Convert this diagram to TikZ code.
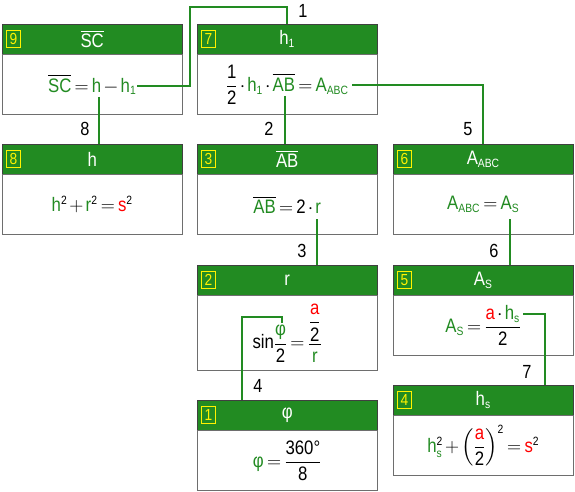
\RequirePackage{fix-cm}
\documentclass[tikz,border=0pt]{standalone}
\usepackage{amsmath}
\usepackage{fontspec}
\setmainfont{Liberation Sans}[FakeStretch=0.86]
\usetikzlibrary{positioning}
\DeclareMathSizes{19.5}{19.5}{12}{9}

\definecolor{hdgreen}{RGB}{34,139,34}
\definecolor{vargreen}{RGB}{34,139,34}
\definecolor{framegray}{RGB}{110,110,110}
\newcommand{\gv}[1]{\textcolor{vargreen}{\text{#1}}}
\newcommand{\rv}[1]{\textcolor{red}{\text{#1}}}
\newcommand{\tx}[1]{\text{#1}}
\medmuskip=2mu plus 1mu minus 1mu
\thickmuskip=3mu plus 2mu

\begin{document}
\begin{tikzpicture}[x=1pt, y=-1pt, every node/.style={inner sep=0pt},
  head/.style={draw=black!75, fill=hdgreen, minimum width=180pt, minimum height=30pt, text=white, font=\fontsize{19.5}{23}\selectfont},
  body/.style={draw=framegray, fill=white, minimum width=180pt, minimum height=60pt, font=\fontsize{19.5}{23}\selectfont},
  badge/.style={draw=yellow, text=yellow, minimum width=14pt, minimum height=17pt, font=\fontsize{16}{19}\selectfont, line width=0.8pt},
  conn/.style={draw=hdgreen, line width=1.6pt},
  num/.style={font=\fontsize{19}{22}\selectfont}]
  \useasboundingbox (0,0) rectangle (575,492);
  % row 1
  \node[head, anchor=north west] (t9) at (2,24) {$\overline{\tx{SC}}$};
  \node[body, below=0pt of t9] (f9) {$\overline{\gv{SC}} = \gv{h} - \gv{h}_{\gv{1}}$};
  \node[badge, right=4pt of t9.west] (n9) {9};
  \node[head, anchor=north west] (t7) at (197,24) {$\tx{h}_{\tx{1}}$};
  \node[body, below=0pt of t7] (f7) {$\dfrac{\tx{1}}{\tx{2}}\cdot\gv{h}_{\gv{1}}\cdot\overline{\gv{AB}} = \gv{A}_{\gv{ABC}}$};
  \node[badge, right=4pt of t7.west] (n7) {7};
  % row 2
  \node[head, anchor=north west] (t8) at (2,144) {$\tx{h}$};
  \node[body, below=0pt of t8] (f8) {$\gv{h}^{\tx{2}} + \gv{r}^{\tx{2}} = \rv{s}^{\tx{2}}$};
  \node[badge, right=4pt of t8.west] (n8) {8};
  \node[head, anchor=north west] (t3) at (197,144) {$\overline{\tx{AB}}$};
  \node[body, below=0pt of t3] (f3) {$\overline{\gv{AB}} = \tx{2}\cdot\gv{r}$};
  \node[badge, right=4pt of t3.west] (n3) {3};
  \node[head, anchor=north west] (t6) at (393,144) {$\tx{A}_{\tx{ABC}}$};
  \node[body, below=0pt of t6] (f6) {$\gv{A}_{\gv{ABC}} = \gv{A}_{\gv{S}}$};
  \node[badge, right=4pt of t6.west] (n6) {6};
  % row 3
  \node[head, anchor=north west] (t2) at (197,265) {$\tx{r}$};
  \node[body, below=0pt of t2, minimum height=75pt] (f2) {$\tx{sin}\dfrac{\gv{φ}}{\tx{2}} = \dfrac{\dfrac{\rv{a}}{\tx{2}}}{\gv{r}}$};
  \node[badge, right=4pt of t2.west] (n2) {2};
  \node[head, anchor=north west] (t5) at (393,265) {$\tx{A}_{\tx{S}}$};
  \node[body, below=0pt of t5] (f5) {$\gv{A}_{\gv{S}} = \dfrac{\rv{a}\cdot\gv{h}_{\gv{s}}}{\tx{2}}$};
  \node[badge, right=4pt of t5.west] (n5) {5};
  % row 4
  \node[head, anchor=north west] (t1) at (197,400) {$\tx{φ}$};
  \node[body, below=0pt of t1] (f1) {$\gv{φ} = \dfrac{\tx{360°}}{\tx{8}}$};
  \node[badge, right=4pt of t1.west] (n1) {1};
  \node[head, anchor=north west] (t4) at (393,385) {$\tx{h}_{\tx{s}}$};
  \node[body, below=0pt of t4] (f4) {$\gv{h}_{\gv{s}}^{\tx{2}} + \left(\dfrac{\rv{a}}{\tx{2}}\right)^{\tx{2}} = \rv{s}^{\tx{2}}$};
  \node[badge, right=4pt of t4.west] (n4) {4};

  % connector ends inside the formulas
  \coordinate (c1) at (137,86);
  \coordinate (c2) at (285,96);
  \coordinate (c3) at (317,219);
  \coordinate (c4) at (282,323);
  \coordinate (c5) at (352,85);
  \coordinate (c6) at (510,219);
  \coordinate (c7) at (523,314);
  \coordinate (c8) at (99,97);

  \draw[conn] (c1) -| (190,7) -| (t7.north);
  \draw[conn] (c2) -- (c2 |- t3.north);
  \draw[conn] (c3) -- (c3 |- t2.north);
  \draw[conn] (c4) -- ++(0,-6) -| ([xshift=-45pt]t1.north);
  \draw[conn] (c5) -| (t6.north);
  \draw[conn] (c6) -- (c6 |- t5.north);
  \draw[conn] (c7) -| ([xshift=62pt]t4.north);
  \draw[conn] (c8) -- (c8 |- t8.north);

  \node[num] (l1) at (303,11) {1};
  \node[num] (l2) at (269,129) {2};
  \node[num] (l3) at (302,251) {3};
  \node[num] (l4) at (258,386) {4};
  \node[num] (l5) at (468,129) {5};
  \node[num] (l6) at (494,251) {6};
  \node[num] (l7) at (527,372) {7};
  \node[num] (l8) at (85,129) {8};
\end{tikzpicture}
\end{document}
